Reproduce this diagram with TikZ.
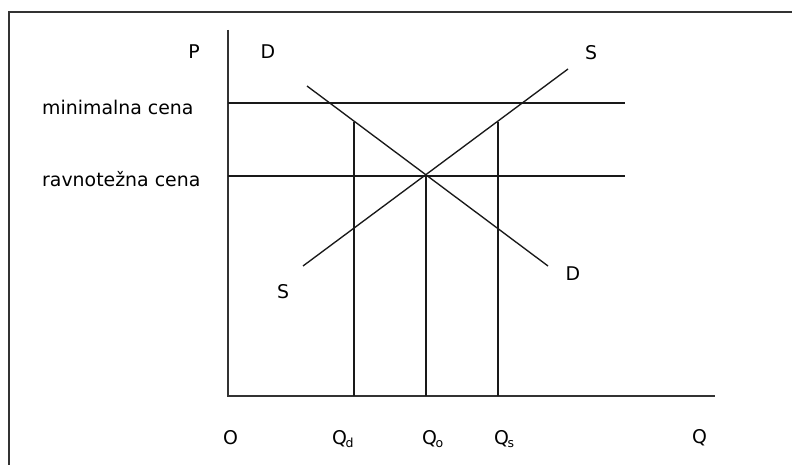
\documentclass[tikz,border=0pt]{standalone}
\usepackage{fontspec}
\setmainfont{DejaVu Sans}
\newcommand{\qsub}[1]{Q\kern-1.5pt\raisebox{-3pt}{\fontsize{12.5}{12.5}\selectfont #1}}
\begin{document}
\begin{tikzpicture}[x=1pt,y=-1pt,
  lbl/.style={inner sep=0pt, font=\fontsize{18.9}{22}\selectfont},
  ln/.style={line width=1.35pt, draw=black!90},
  axis/.style={line width=1.5pt, draw=black!80}]
\useasboundingbox (0,0) rectangle (792,465);
% frame (only top and left visible)
\coordinate (fb) at (9,466);
\coordinate (fc) at (9,12);
\coordinate (fr) at (793,12);
\draw[line width=1.3pt, draw=black!80] (fb) -- (fc) -- (fr);
% axes
\coordinate (O) at (228,396);
\coordinate (Ptop) at (228,30);
\coordinate (Qend) at (715,396);
\draw[axis] (Ptop) -- (O) -- (Qend);
% price lines
\coordinate (minL) at (228,103);
\coordinate (minR) at (625,103);
\coordinate (eqL) at (228,176);
\coordinate (eqR) at (625,176);
\draw[ln] (minL) -- (minR);
\draw[ln] (eqL) -- (eqR);
% demand and supply
\coordinate (D1) at (307,86);
\coordinate (D2) at (548,266);
\coordinate (S1) at (303,266);
\coordinate (S2) at (568,69);
\draw[ln] (D1) -- (D2);
\draw[ln] (S1) -- (S2);
% verticals
\coordinate (qd) at (354,396);
\coordinate (qdTop) at (354,122);
\coordinate (qo) at (426,396);
\coordinate (E) at (426,176);
\coordinate (qs) at (498,396);
\coordinate (qsTop) at (498,122);
\draw[ln] (qdTop) -- (qd);
\draw[ln] (E) -- (qo);
\draw[ln] (qsTop) -- (qs);
% labels
\node[lbl, anchor=base] (lP) at (194,59) {P};
\node[lbl, anchor=base] (lDt) at (268,59) {D};
\node[lbl, anchor=base] (lSt) at (591,60) {S};
\node[lbl, anchor=base] (lSb) at (283,298) {S};
\node[lbl, anchor=base] (lDb) at (573,280) {D};
\node[lbl, anchor=base west] (lmin) at (42,115) {minimalna cena};
\node[lbl, anchor=base west] (leq) at (42,187) {ravnotežna cena};
\node[lbl, anchor=base] (lO) at (230.5,444) {O};
\node[lbl, anchor=base west] (lQd) at (332,444) {\qsub{d}};
\node[lbl, anchor=base west] (lQo) at (422,444) {\qsub{o}};
\node[lbl, anchor=base west] (lQs) at (494,444) {\qsub{s}};
\node[lbl, anchor=base west] (lQ) at (692,443) {Q};
\end{tikzpicture}
\end{document}
